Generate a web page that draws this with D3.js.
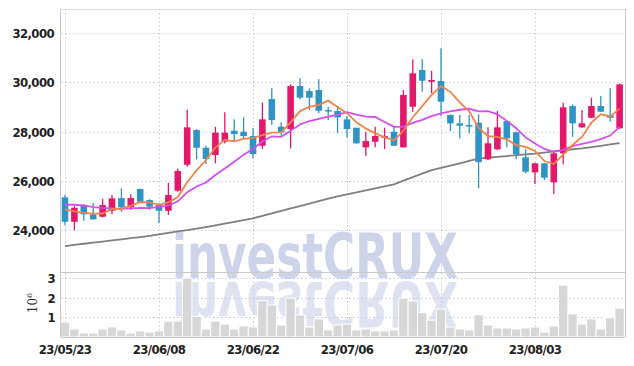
<!DOCTYPE html>
<html>
<head>
<meta charset="utf-8">
<script src="https://cdn.jsdelivr.net/npm/d3@7"></script>
<style>
  body { margin: 0; background: #fff; }
  svg { display: block; }
  .tick-label { font-family: "DejaVu Sans Condensed", "DejaVu Sans", sans-serif; font-weight: bold; font-size: 13px; fill: #222; letter-spacing: -0.6px; }
</style>
</head>
<body>
<svg width="634" height="366"></svg>
<script>
// trading days
var dates = ["2023-05-23","2023-05-24","2023-05-25","2023-05-26","2023-05-30","2023-05-31",
  "2023-06-01","2023-06-02","2023-06-05","2023-06-07","2023-06-08","2023-06-09","2023-06-12",
  "2023-06-13","2023-06-14","2023-06-15","2023-06-16","2023-06-19","2023-06-20","2023-06-21",
  "2023-06-22","2023-06-23","2023-06-26","2023-06-27","2023-06-28","2023-06-29","2023-06-30",
  "2023-07-03","2023-07-04","2023-07-05","2023-07-06","2023-07-07","2023-07-10","2023-07-11",
  "2023-07-12","2023-07-13","2023-07-14","2023-07-17","2023-07-18","2023-07-19","2023-07-20",
  "2023-07-21","2023-07-24","2023-07-25","2023-07-26","2023-07-27","2023-07-28","2023-07-31",
  "2023-08-01","2023-08-02","2023-08-03","2023-08-04","2023-08-07","2023-08-08","2023-08-09",
  "2023-08-10","2023-08-11","2023-08-14","2023-08-16","2023-08-17"];

var opens = [25329,24339,25017,24640,24542,24785,25301,24923,25667,25220,25057,24785,25599,26653,28062,
  27344,27047,27587,28035,27994,27818,27425,29320,28196,28102,29848,29645,29686,28874,28833,
  28496,28156,27359,27587,27750,27994,27359,29008,30498,30023,30051,28671,28334,28265,28360,
  26872,27277,28427,27968,26953,26344,26709,25938,27116,29036,28171,28561,29036,28671,28131];
var highs = [25423,24976,25045,25086,25260,25423,25694,25451,25694,25250,25090,25922,26506,28890,28100,
  27425,28196,28780,28496,28577,28131,29186,29755,28374,29917,30161,29755,30120,29008,29036,
  28631,28156,27994,28196,28156,28171,29686,30932,30932,30470,31378,28700,28671,28671,28700,
  28171,28833,28450,28000,27290,26730,26730,27181,29170,29100,28874,29373,29442,29755,29950];
var lows = [24205,24000,24380,24436,24517,24640,24746,24814,25151,24814,24274,24611,25558,26572,26872,
  26682,26709,27519,27587,27696,26913,27290,28265,27831,27318,29308,28874,28740,28468,27928,
  27764,27519,27006,27359,27290,27425,27359,28805,29617,29552,28630,28021,27724,27928,25700,
  26850,27250,27359,26884,26304,25869,26033,25463,26669,27790,28150,28540,28790,28399,28110];
var closes = [24339,24907,24640,24436,25017,25288,24923,25301,25151,24949,24785,25423,26397,28171,27344,
  26884,27953,27953,27899,27818,27087,28496,28468,27968,29848,29374,29374,28847,28833,28577,
  28102,27519,27615,27818,27818,27425,29483,30364,30063,30092,29212,28334,28237,28224,26760,
  27522,28171,27725,27087,26369,26709,26127,27116,28983,28334,28334,29036,28806,28561,29917];

// volume, millions of shares
var volume = [0.76,0.41,0.20,0.20,0.41,0.51,0.36,0.20,0.31,0.25,0.31,0.81,0.81,3.00,1.05,
  0.41,0.81,0.66,0.41,0.56,0.51,1.85,1.63,0.61,1.98,1.12,0.51,0.92,0.36,0.61,
  0.66,0.36,0.41,0.31,0.31,0.36,1.98,1.83,1.24,0.86,1.42,0.51,0.41,0.36,1.13,
  0.61,0.46,0.46,0.41,0.46,0.51,0.25,0.56,2.64,1.18,0.66,0.92,0.41,0.97,1.47];

// moving averages
var ma5 = [24840,24760,24700,24670,24668,24858,24861,24993,25136,25122,25022,25122,25341,25945,26424,
  26844,27350,27661,27607,27701,27742,27851,27954,27967,28373,28831,29006,29082,29255,29001,
  28747,28376,28129,27926,27774,27639,28032,28582,29031,29485,29843,29613,29188,28820,28153,
  27815,27783,27680,27453,27375,27212,26803,26682,27061,27454,27779,28361,28699,28614,28931];
var ma10 = [25030,25030,25000,24930,24900,24880,24860,24880,24900,24895,24940,24991,25167,25541,25773,
  25933,26236,26501,26776,27063,27293,27600,27807,27787,28037,28286,28429,28518,28611,28687,
  28789,28691,28606,28591,28388,28193,28204,28355,28478,28630,28741,28822,28885,28925,28819,
  28829,28698,28434,28136,27764,27514,27293,27181,27257,27414,27496,27582,27690,27838,28192];
var ma60 = [23352,23397,23446,23490,23535,23580,23628,23673,23718,23770,23827,23888,23945,24002,24059,
  24120,24189,24262,24335,24404,24481,24578,24676,24777,24879,24976,25078,25179,25281,25370,
  25455,25528,25614,25695,25780,25861,26007,26150,26296,26438,26527,26620,26714,26807,26901,
  26941,26974,27006,27043,27075,27108,27148,27193,27238,27282,27319,27372,27423,27477,27530];

var priceTicks = [24000, 26000, 28000, 30000, 32000];
var volTicks = [1, 2, 3];
var dateTicks = [0, 10, 20, 30, 40, 50];

var svg = d3.select("svg");
var plotLeft = 61, plotRight = 625, plotTop = 9, priceBottom = 272, volBottom = 337;

var idx = d3.range(dates.length);
var x = d3.scaleBand().domain(idx).range([60.3, 624.3]).paddingInner(0.3).paddingOuter(0.15);
var cx = function (i) { return x(i) + x.bandwidth() / 2; };
var y = d3.scaleLinear().domain([22300, 32975]).range([priceBottom, plotTop]);
var yv = d3.scaleLinear().domain([0, 3.31]).range([volBottom, priceBottom]);
var fmtDate = d3.timeFormat("%y/%m/%d");
var parse = d3.timeParse("%Y-%m-%d");

var gridColor = "#c6c8de";

// watermark
var wm = svg.append("g").attr("font-family", "DejaVu Sans, sans-serif").attr("font-weight", "bold");
wm.append("text").attr("x", 172).attr("y", 278).attr("font-size", 62)
  .attr("textLength", 286).attr("lengthAdjust", "spacingAndGlyphs")
  .attr("fill", "#cdd4ea").text("investCRUX");
wm.append("text").attr("x", 172).attr("y", 278).attr("font-size", 62)
  .attr("textLength", 286).attr("lengthAdjust", "spacingAndGlyphs")
  .attr("transform", "translate(0,560) scale(1,-1)")
  .attr("fill", "#dfe3f1").text("investCRUX");

// grid
var grid = svg.append("g").attr("stroke", gridColor).attr("stroke-dasharray", "1.5,2.5").attr("stroke-width", 1);
grid.selectAll(".hg").data(priceTicks).enter().append("line")
  .attr("x1", plotLeft).attr("x2", plotRight)
  .attr("y1", function (d) { return Math.round(y(d)) + 0.5; })
  .attr("y2", function (d) { return Math.round(y(d)) + 0.5; });
grid.selectAll(".vg").data(volTicks).enter().append("line")
  .attr("x1", plotLeft).attr("x2", plotRight)
  .attr("y1", function (d) { return Math.round(yv(d)) + 0.5; })
  .attr("y2", function (d) { return Math.round(yv(d)) + 0.5; });
grid.selectAll(".xg").data(dateTicks).enter().append("line")
  .attr("x1", function (d) { return Math.round(cx(d)) + 0.5; })
  .attr("x2", function (d) { return Math.round(cx(d)) + 0.5; })
  .attr("y1", plotTop).attr("y2", volBottom);

// volume bars
svg.append("g").selectAll("rect").data(idx).enter().append("rect")
  .attr("x", function (i) { return cx(i) - 4.7; })
  .attr("width", 9.4)
  .attr("y", function (i) { return yv(volume[i]); })
  .attr("height", function (i) { return yv(0) - yv(volume[i]); })
  .attr("fill", "#d3d3d3").attr("fill-opacity", 0.9)
  .attr("stroke", "#fff").attr("stroke-width", 1);

// moving averages
var line = function (arr) {
  return d3.line().x(function (i) { return cx(i); }).y(function (i) { return y(arr[i]); })(idx);
};
svg.append("path").attr("d", line(ma60)).attr("fill", "none").attr("stroke", "#7f7f7f").attr("stroke-width", 1.8);

// candles
var up = "#e2186a", down = "#2f93c6";
var candles = svg.append("g").selectAll("g").data(idx).enter().append("g");
candles.append("line")
  .attr("x1", cx).attr("x2", cx)
  .attr("y1", function (i) { return y(highs[i]); })
  .attr("y2", function (i) { return y(lows[i]); })
  .attr("stroke", function (i) { return closes[i] >= opens[i] ? up : down; })
  .attr("stroke-width", 1.3);
candles.append("rect")
  .attr("x", function (i) { return x(i); })
  .attr("width", x.bandwidth())
  .attr("y", function (i) { return y(Math.max(opens[i], closes[i])); })
  .attr("height", function (i) { return Math.max(1.5, Math.abs(y(opens[i]) - y(closes[i]))); })
  .attr("fill", function (i) { return closes[i] >= opens[i] ? up : down; });

svg.append("path").attr("d", line(ma10)).attr("fill", "none").attr("stroke", "#d24ff0").attr("stroke-width", 1.8);
svg.append("path").attr("d", line(ma5)).attr("fill", "none").attr("stroke", "#f0844a").attr("stroke-width", 1.8);

// frame
var frame = svg.append("g").attr("stroke", "#c9c9c9").attr("stroke-width", 1);
frame.append("line").attr("x1", plotLeft - 0.5).attr("x2", plotLeft - 0.5).attr("y1", plotTop).attr("y2", volBottom);
frame.append("line").attr("x1", plotRight + 0.5).attr("x2", plotRight + 0.5).attr("y1", plotTop).attr("y2", volBottom);
frame.append("line").attr("x1", plotLeft).attr("x2", plotRight).attr("y1", plotTop + 0.5).attr("y2", plotTop + 0.5).attr("stroke", "#dcdcdc");
frame.append("line").attr("x1", plotLeft).attr("x2", plotRight).attr("y1", priceBottom + 0.5).attr("y2", priceBottom + 0.5);
frame.append("line").attr("x1", plotLeft).attr("x2", plotRight).attr("y1", volBottom + 0.5).attr("y2", volBottom + 0.5);

// labels
var fmtPrice = d3.format(",");
svg.append("g").selectAll("text").data(priceTicks).enter().append("text")
  .attr("class", "tick-label").attr("text-anchor", "end")
  .attr("x", 54).attr("y", function (d) { return y(d) + 5; })
  .text(function (d) { return fmtPrice(d); });
svg.append("g").selectAll("text").data(volTicks).enter().append("text")
  .attr("class", "tick-label").attr("text-anchor", "end")
  .attr("x", 55).attr("y", function (d) { return yv(d) + 5; })
  .text(function (d) { return d; });
svg.append("g").selectAll("text").data(dateTicks).enter().append("text")
  .attr("class", "tick-label").attr("text-anchor", "middle")
  .attr("x", function (i) { return cx(i); }).attr("y", 354)
  .text(function (i) { return fmtDate(parse(dates[i])); });

var unit = svg.append("text").attr("transform", "translate(37,303) rotate(-90)")
  .attr("text-anchor", "middle").attr("font-family", "DejaVu Serif, serif")
  .attr("font-size", 12).attr("fill", "#333");
unit.append("tspan").text("10");
unit.append("tspan").attr("dy", -5).attr("font-size", 8).text("6");
</script>
</body>
</html>
